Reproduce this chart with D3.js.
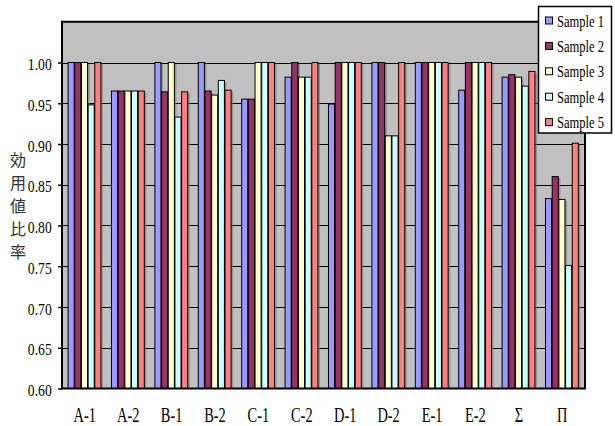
<!DOCTYPE html>
<html>
<head>
<meta charset="utf-8">
<script src="https://cdn.jsdelivr.net/npm/d3@7/dist/d3.min.js"></script>
<style>
  html, body { margin: 0; padding: 0; background: #ffffff; }
  svg { display: block; }
</style>
</head>
<body>
<svg id="chart" width="615" height="426"></svg>
<script>
// Categories along the x axis
const categories = ["A-1", "A-2", "B-1", "B-2", "C-1", "C-2", "D-1", "D-2", "E-1", "E-2", "Σ", "Π"];
const seriesNames = ["Sample 1", "Sample 2", "Sample 3", "Sample 4", "Sample 5"];

// Ratio values per sample, one entry per category
const sample1 = [1.000, 0.965, 1.000, 1.000, 0.955, 0.982, 0.949, 1.000, 1.000, 0.966, 0.982, 0.833];
const sample2 = [1.000, 0.965, 0.964, 0.965, 0.955, 1.000, 1.000, 1.000, 1.000, 1.000, 0.985, 0.860];
const sample3 = [1.000, 0.965, 1.000, 0.960, 1.000, 0.982, 1.000, 0.910, 1.000, 1.000, 0.982, 0.832];
const sample4 = [0.948, 0.965, 0.933, 0.978, 1.000, 0.982, 1.000, 0.910, 1.000, 1.000, 0.971, 0.751];
const sample5 = [1.000, 0.965, 0.964, 0.966, 1.000, 1.000, 1.000, 1.000, 1.000, 1.000, 0.989, 0.901];

const yTicks = [0.60, 0.65, 0.70, 0.75, 0.80, 0.85, 0.90, 0.95, 1.00];
const yTitle = ["効", "用", "値", "比", "率"];

const seriesValues = [sample1, sample2, sample3, sample4, sample5];
const colors = ["#9999ff", "#993366", "#ffffcc", "#ccffff", "#ff8080"];

const serif = "'Liberation Serif', 'Times New Roman', serif";
const svg = d3.select("#chart");
const plot = { left: 62, right: 585, top: 21.75, bottom: 388.5 };

const x = d3.scaleBand().domain(categories).range([plot.left, plot.right])
  .paddingInner(0.23).paddingOuter(0.14);
const xs = d3.scaleBand().domain(seriesNames).range([0, x.bandwidth()]);
const y = d3.scaleLinear().domain([0.6, 1.05]).range([plot.bottom, plot.top]);

// Plot background
svg.append("rect")
  .attr("x", plot.left).attr("y", plot.top)
  .attr("width", plot.right - plot.left).attr("height", plot.bottom - plot.top)
  .attr("fill", "#c0c0c0");

// Horizontal gridlines
svg.append("g").selectAll("line").data(yTicks.slice(1)).join("line")
  .attr("x1", plot.left).attr("x2", plot.right)
  .attr("y1", d => Math.round(y(d)) + 0.5).attr("y2", d => Math.round(y(d)) + 0.5)
  .attr("stroke", "#000").attr("stroke-width", 1);

// Bars
const groups = svg.append("g").selectAll("g").data(categories).join("g")
  .attr("transform", d => `translate(${x(d)},0)`);

const barData = (c, ci) => seriesNames.map((s, si) => ({ s, si, v: seriesValues[si][ci] }));

// soft shadow beside each bar
groups.selectAll("rect.shadow").data((c, ci) => barData(c, ci)).join("rect")
  .attr("class", "shadow")
  .attr("x", d => xs(d.s) + 1.5).attr("y", d => y(d.v) + 1.5)
  .attr("width", xs.bandwidth()).attr("height", d => y(0.6) - y(d.v) - 1.5)
  .attr("fill", "#7a7a7a").attr("opacity", 0.6);

groups.selectAll("rect.bar").data((c, ci) => barData(c, ci)).join("rect")
  .attr("class", "bar")
  .attr("x", d => xs(d.s)).attr("y", d => y(d.v))
  .attr("width", xs.bandwidth() - 0.6).attr("height", d => y(0.6) - y(d.v))
  .attr("fill", d => colors[d.si])
  .attr("stroke", "#000").attr("stroke-width", 1);

// Plot frame
svg.append("rect")
  .attr("x", plot.left).attr("y", plot.top)
  .attr("width", plot.right - plot.left).attr("height", plot.bottom - plot.top)
  .attr("fill", "none").attr("stroke", "#000").attr("stroke-width", 2);

// Y axis (narrow, tall serif numerals)
const ySx = 0.78;
const yAxis = d3.axisLeft(y).tickValues(yTicks).tickFormat(d3.format(".2f"))
  .tickSize(4).tickPadding(6);
const yg = svg.append("g").attr("transform", `translate(${plot.left},0)`).call(yAxis);
yg.select(".domain").remove();
yg.selectAll("line").attr("stroke", "#000").attr("stroke-width", 1.5);
yg.selectAll("text")
  .attr("font-family", serif)
  .attr("font-size", 17.5).attr("fill", "#000")
  .attr("x", -10.3 / ySx).attr("dy", "0.4em")
  .attr("transform", `scale(${ySx},1)`);

// X axis labels
const xSx = 0.72;
const xAxis = d3.axisBottom(x).tickSize(0);
const xg = svg.append("g").attr("transform", `translate(0,${plot.bottom})`).call(xAxis);
xg.select(".domain").remove();
xg.selectAll("text")
  .attr("font-family", serif)
  .attr("font-size", 20).attr("fill", "#000")
  .attr("y", 34).attr("dy", 0)
  .attr("transform", `scale(${xSx},1)`);

// Y axis title, stacked vertically
svg.append("g").selectAll("text").data(yTitle).join("text")
  .attr("x", 18).attr("y", (d, i) => 166 + i * 23)
  .attr("text-anchor", "middle")
  .attr("font-family", "'Noto Sans CJK JP', sans-serif")
  .attr("font-size", 16).attr("fill", "#333")
  .text(d => d);

// Legend
const lSx = 0.74;
const legend = svg.append("g");
legend.append("rect")
  .attr("x", 538.5).attr("y", 6.5).attr("width", 73).attr("height", 126.5)
  .attr("fill", "#fff").attr("stroke", "#000").attr("stroke-width", 1.5);
const items = legend.selectAll("g").data(seriesNames).join("g")
  .attr("transform", (d, i) => `translate(0,${26.5 + i * 25.4})`);
items.append("rect")
  .attr("x", 545.5).attr("y", -9.5).attr("width", 7).attr("height", 7)
  .attr("fill", (d, i) => colors[i]).attr("stroke", "#000").attr("stroke-width", 1);
items.append("text")
  .attr("x", 557 / lSx).attr("y", 0)
  .attr("transform", `scale(${lSx},1)`)
  .attr("font-family", serif)
  .attr("font-size", 17).attr("fill", "#000")
  .text(d => d);
</script>
</body>
</html>
